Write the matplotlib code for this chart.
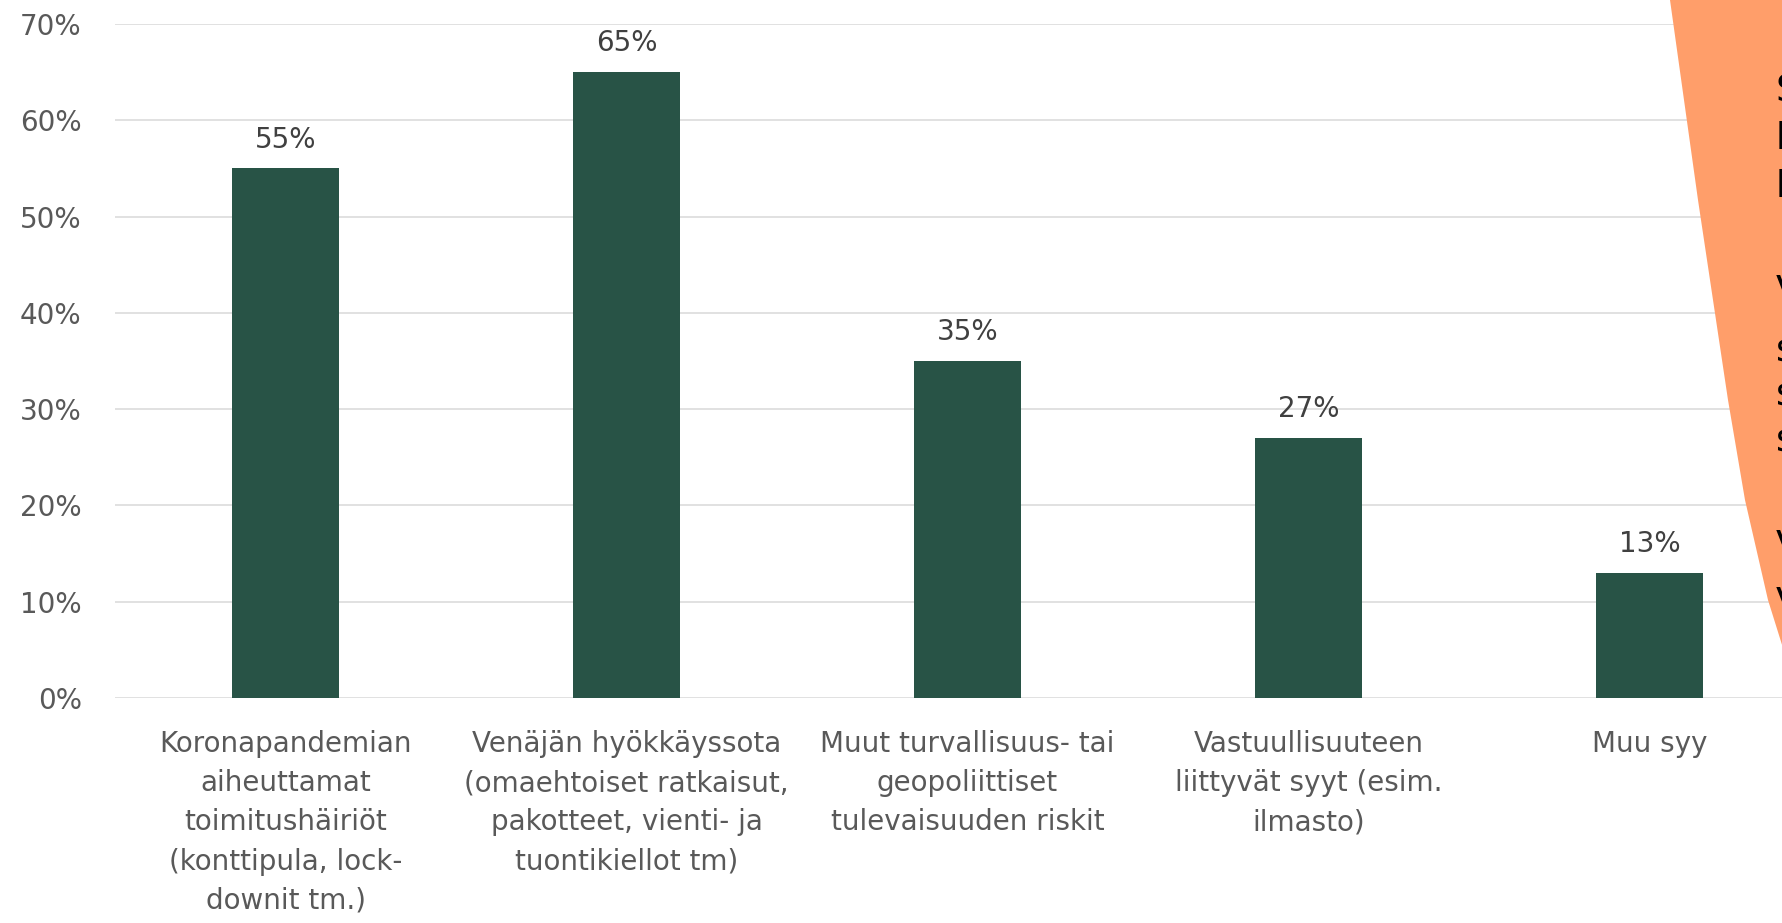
import matplotlib
matplotlib.use("Agg")
import matplotlib.pyplot as plt
from matplotlib.patches import Polygon
from matplotlib.ticker import FuncFormatter, MultipleLocator

# data
categories = [
    "Koronapandemian\naiheuttamat\ntoimitushäiriöt\n(konttipula, lock-\ndownit tm.)",
    "Venäjän hyökkäyssota\n(omaehtoiset ratkaisut,\npakotteet, vienti- ja\ntuontikiellot tm)",
    "Muut turvallisuus- tai\ngeopoliittiset\ntulevaisuuden riskit",
    "Vastuullisuuteen\nliittyvät syyt (esim.\nilmasto)",
    "Muu syy",
]
values = [0.55, 0.65, 0.35, 0.27, 0.13]

# letters peeking out of the cut-off orange callout (text, baseline px from top)
callout_letters = ["S", "k", "k", "V", "s", "s", "s", "V", "V"]
callout_baselines = [102, 149, 197, 302, 361, 406, 452, 557, 614]

W, H = 1783, 923
bar_col = "#285346"
grid_col = "#D9D9D9"
orange = "#FF9E6A"

plt.rcParams["font.family"] = ["DejaVu Sans"]

fig = plt.figure(figsize=(W / 100, H / 100), dpi=100)
ax = fig.add_axes([115 / W, 225 / H, 1705 / W, 674 / H])

x = range(len(values))
bars = ax.bar(x, values, width=0.314, color=bar_col, zorder=3)

for b, v in zip(bars, values):
    ax.annotate(f"{v*100:.0f}%", (b.get_x() + b.get_width() / 2, v),
                xytext=(0, 15), textcoords="offset points",
                ha="center", va="baseline", fontsize=20, color="#404040")

ax.set_xlim(-0.5, len(values) - 0.5)
ax.set_ylim(0, 0.70)
ax.yaxis.set_major_locator(MultipleLocator(0.1))
ax.yaxis.set_major_formatter(FuncFormatter(lambda v, p: f"{v*100:.0f}%"))
ax.set_xticks(list(x))
ax.set_xticklabels(categories, fontsize=20, color="#595959", linespacing=1.51)
ax.tick_params(axis="x", length=0, pad=23)
ax.tick_params(axis="y", length=0, pad=24, labelsize=20, labelcolor="#595959")
ax.grid(axis="y", color=grid_col, linewidth=1.1, zorder=0)
for s in ax.spines.values():
    s.set_visible(False)

# orange callout shape on the right edge
edge = [(1670, 0), (1684, 100), (1698, 200), (1713, 300), (1728, 400),
        (1745, 500), (1768, 600), (1783, 648), (1800, 660), (1800, -10), (1668, -10)]
poly = Polygon([(px / W, 1 - py / H) for px, py in edge], closed=True,
               transform=fig.transFigure, facecolor=orange, edgecolor="none", zorder=5)
fig.add_artist(poly)

for t, yb in zip(callout_letters, callout_baselines):
    fig.text(1776 / W, 1 - yb / H, t, fontsize=27, color="black",
             ha="left", va="baseline", zorder=6)

fig.savefig("out.png", dpi=100)
